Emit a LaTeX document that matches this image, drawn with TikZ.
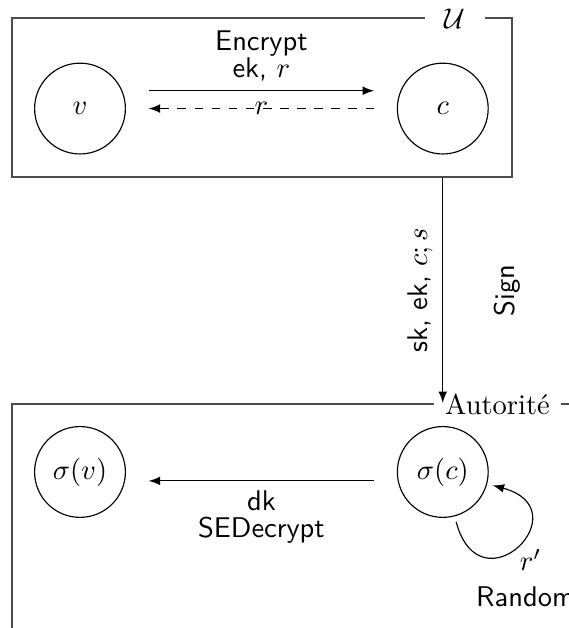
\documentclass[tikz,border=0pt]{standalone}
\usepackage{amsmath, amssymb}
\usepackage{tikz}
\usetikzlibrary{calc, arrows}

\tikzset{
	party/.style = {draw = black!70, line width = 0.7pt, rectangle},
	agent/.style = {draw, circle, minimum size = 1.12cm, inner sep = 0pt},
	gap/.style = {shorten <= 0.28cm, shorten >= 0.28cm}
}

\begin{document}
\begin{tikzpicture}[>=latex, font=\sffamily]
	\useasboundingbox (0,0) rectangle (7.017,-7.745);

	\node [party, minimum width = 6.166cm, minimum height = 1.953cm] (U) at (3.227,-1.2025) {};
	\node [party, minimum width = 7.256cm, minimum height = 3.618cm] (A) at (3.772,-6.791) {};

	\node [fill = white, inner sep = 7pt] (Ulab) at (5.611,-0.2257) {$\mathcal{U}$};
	\node [fill = white, inner sep = 4pt, font = \rmfamily] (Alab) at (6.135,-4.982) {Autorité};

	\node [agent] (v) at (0.9866,-1.339) {$v$};
	\node [agent] (c) at (5.4606,-1.339) {$c$};
	\node [agent] (sv) at (0.9866,-5.8207) {$\sigma(v)$};
	\node [agent] (sc) at (5.4606,-5.8207) {$\sigma(c)$};

	\draw [->, gap] ([yshift = 0.22cm]v.east) -- ([yshift = 0.22cm]c.west)
		node [midway, above, align = center] {Encrypt\\[-2.5pt]ek, $r$};
	\draw [->, dashed, gap] (c.west) -- (v.east) node [midway] {$r$};

	\draw [->] (U.south -| c) -- (A.north -| c)
		node [midway, above, rotate = 90] {sk, ek, $c; s$};
	\node [rotate = 90] (sign) at ($(U.south -| c)!0.5!(A.north -| c) + (0.8,0)$) {Sign};

	\draw [->, gap] ([yshift = -0.11cm]sc.west) -- ([yshift = -0.11cm]sv.east)
		node [midway, below, align = center] {dk\\[-2.5pt]SEDecrypt};

	\draw [->, shorten <= 2pt, shorten >= 2pt] (sc) to [out = -75, in = -15, looseness = 5.5]
		node [midway, below right, inner sep = 1pt] {$r'$} (sc);

	\node [anchor = base west, inner sep = 0pt] (rand) at (5.866,-7.482) {Random};
\end{tikzpicture}
\end{document}
